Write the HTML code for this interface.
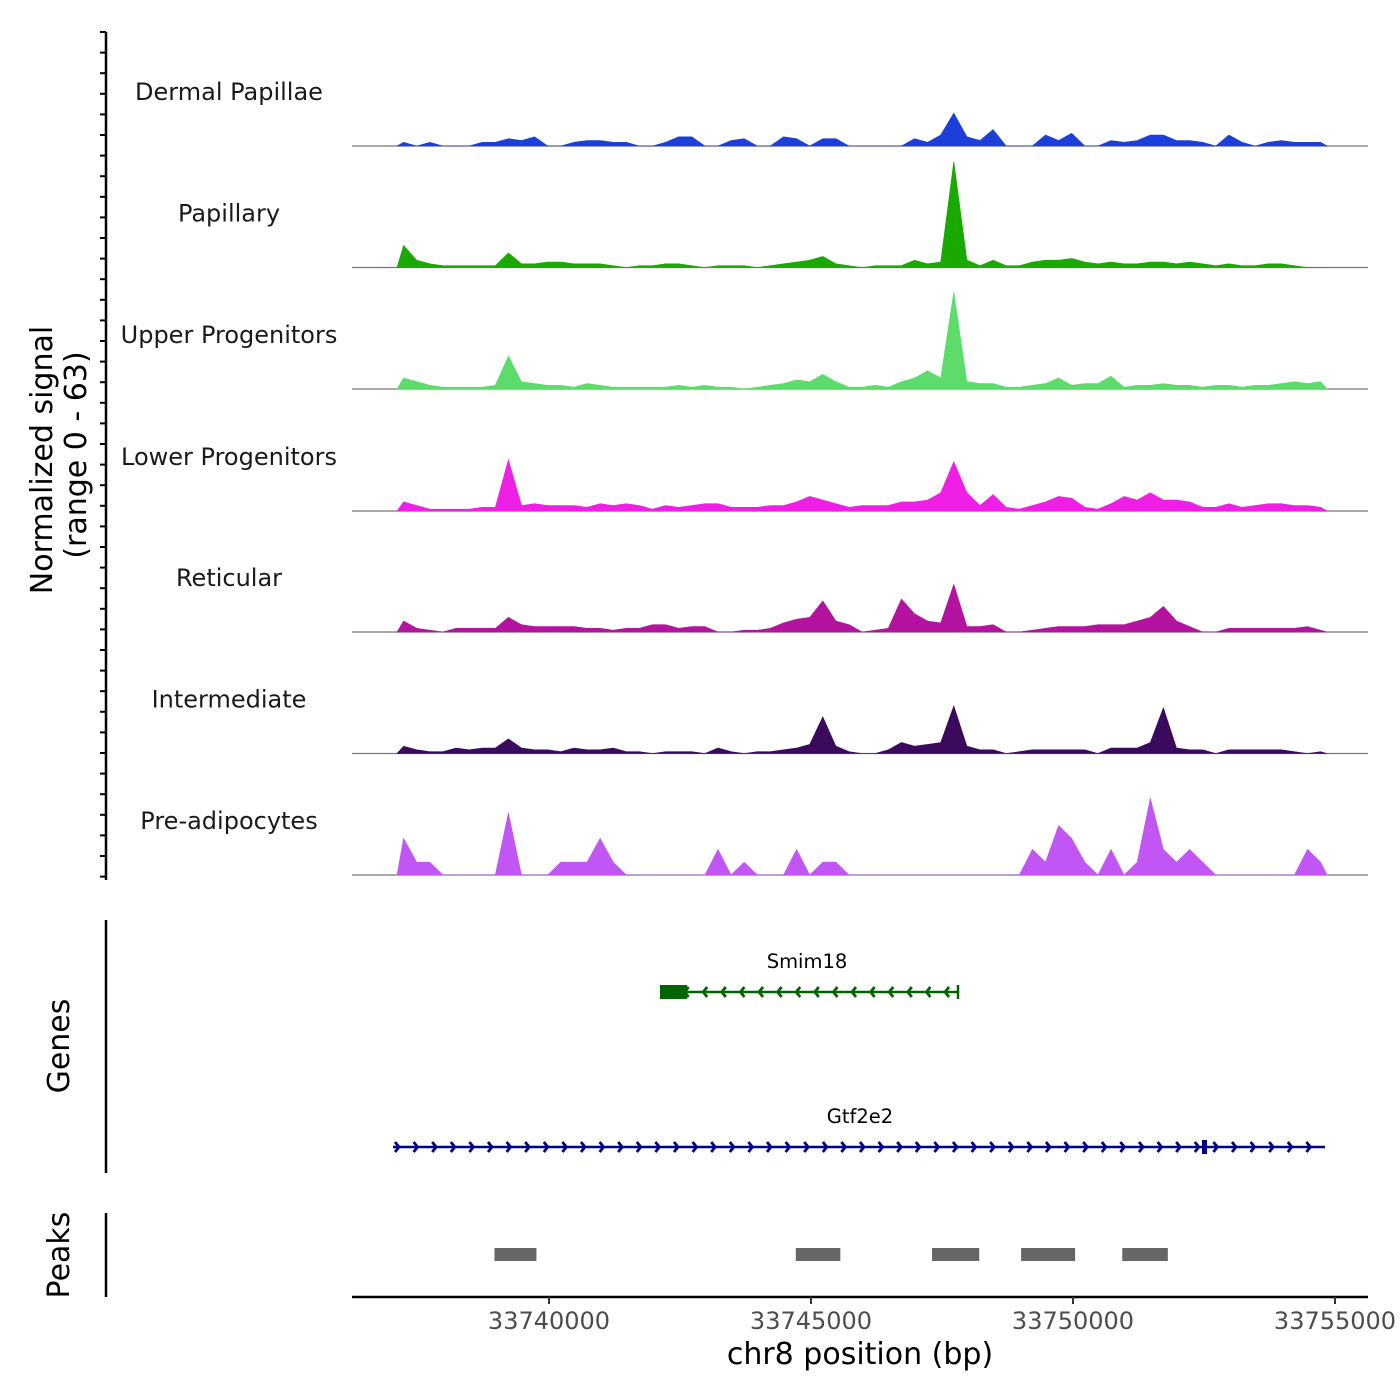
<!DOCTYPE html>
<html><head><meta charset="utf-8"><style>
html,body{margin:0;padding:0;background:#fff;}
svg{display:block;font-family:"DejaVu Sans","Liberation Sans",sans-serif;}
</style></head><body>
<svg id="chart" width="1400" height="1400" viewBox="0 0 1400 1400" xmlns="http://www.w3.org/2000/svg">
<g id="tracks"></g>
<g id="yaxis">
 <line x1="106" y1="32" x2="106" y2="880" stroke="#000" stroke-width="2.5"/>
</g>
<text transform="translate(52,460) rotate(-90)" text-anchor="middle" font-size="30" fill="#000">Normalized signal</text>
<text transform="translate(86,455) rotate(-90)" text-anchor="middle" font-size="30" fill="#000">(range 0 - 63)</text>
<g>
 <line x1="106" y1="920" x2="106" y2="1173" stroke="#000" stroke-width="2.5"/>
 <text transform="translate(69,1046) rotate(-90)" text-anchor="middle" font-size="30">Genes</text>
 <g id="genes"></g>
</g>
<g>
 <line x1="106" y1="1213" x2="106" y2="1297" stroke="#000" stroke-width="2.5"/>
 <text transform="translate(69,1255) rotate(-90)" text-anchor="middle" font-size="30">Peaks</text>
 <g id="peaks"></g>
</g>
<g id="xaxis">
 <line x1="352" y1="1297" x2="1368" y2="1297" stroke="#000" stroke-width="2.5"/>
</g>
<text x="860" y="1364" text-anchor="middle" font-size="30">chr8 position (bp)</text>
</svg>
<script>
const NS="http://www.w3.org/2000/svg";
const binStart=33737100;
const binSize=250;
const trackNames=["Dermal Papillae","Papillary","Upper Progenitors","Lower Progenitors","Reticular","Intermediate","Pre-adipocytes"];
const trackColors=["#1b3fd8","#1aa900","#5ddc6b","#f01fe6","#b3139f","#3a0a5c","#c256f5"];
const dermal=[2,0,2,0,0,0,2,2,4,3,5,0,0,2,3,3,2,2,0,0,2,5,5,0,0,3,4,0,0,5,4,0,4,4,0,0,0,0,0,4,2,6,18,5,3,9,0,0,0,6,3,7,0,0,3,2,3,6,6,3,3,2,0,6,2,0,2,3,2,2,2];
const papillary=[12,4,2,1,1,1,1,1,8,2,2,3,3,2,2,2,1,0,1,1,2,2,1,0,1,1,1,0,1,2,3,4,6,2,1,0,1,1,1,4,2,3,58,4,1,4,1,1,3,4,4,5,3,2,3,2,2,3,3,2,3,2,1,2,1,1,2,2,1,0,0];
const upper=[6,4,2,1,1,1,1,2,18,4,3,2,2,1,3,2,1,1,1,1,1,2,1,2,1,1,0,1,2,3,5,4,8,4,1,1,2,1,4,6,10,6,53,4,3,3,1,1,2,3,6,2,3,3,7,1,2,2,3,2,2,1,2,2,1,2,2,3,4,3,4];
const lower=[5,3,1,1,1,1,2,2,28,3,4,3,3,3,2,4,3,4,3,1,3,2,3,4,4,2,2,2,3,3,5,8,6,4,2,3,3,3,5,5,6,10,27,10,3,9,2,1,3,5,8,7,2,1,4,8,6,10,6,6,5,2,2,4,2,3,4,4,3,3,2];
const reticular=[6,2,1,0,2,2,2,2,8,4,3,3,3,3,2,2,1,2,2,4,4,2,3,3,0,0,1,1,2,5,7,8,17,6,4,0,1,2,18,10,6,5,26,3,3,4,0,0,1,2,3,3,3,4,4,4,6,8,14,6,3,0,0,2,2,2,2,2,2,3,1];
const intermediate=[4,2,1,1,3,2,3,3,8,3,2,2,1,3,2,2,3,1,1,0,1,1,1,0,3,1,0,1,1,2,3,5,20,4,1,0,0,2,6,4,5,6,26,4,2,2,0,1,2,2,2,2,2,0,3,3,3,6,25,3,2,2,0,2,2,2,2,2,1,0,1];
const preadipo=[20,7,7,0,0,0,0,0,34,0,0,0,7,7,7,20,7,0,0,0,0,0,0,0,14,0,7,0,0,0,14,0,7,7,0,0,0,0,0,0,0,0,0,0,0,0,0,0,14,7,27,20,7,0,14,0,7,42,14,7,14,7,0,0,0,0,0,0,0,14,7];
const trackData=[dermal,papillary,upper,lower,reticular,intermediate,preadipo];
const xTicks=[33740000,33745000,33750000,33755000];
const peakStarts=[33738960,33744710,33747310,33749010,33750940];
const peakEnds=[33739760,33745560,33748210,33750040,33751810];
const yMax=63;

const X0=33740000, XPX=549, PXPERBP=262/5000;
function xScale(bp){return XPX+(bp-X0)*PXPERBP;}
const trackBase=[146,267.5,389,511,632,753.5,875];
const unitPx=1.83;
function yScale(v,base){return base-v*unitPx;}

function mk(tag,attrs,parent){const e=document.createElementNS(NS,tag);for(const k in attrs)e.setAttribute(k,attrs[k]);parent.appendChild(e);return e;}

const tracks=document.getElementById('tracks');
trackData.forEach((arr,t)=>{
  const base=trackBase[t];
  const g=mk('g',{},tracks);
  
  
  const lab=mk('text',{x:229,y:base-46,'text-anchor':'middle','font-size':'24',fill:'#1a1a1a'},g);
  lab.textContent=trackNames[t];
  
  
  const bl=mk('line',{x1:352,x2:1368,y1:base,y2:base,stroke:'#777','stroke-width':1.2},g);
  
  
  let d='M'+xScale(binStart).toFixed(1)+' '+base;
  arr.forEach((v,i)=>{
    const cx=xScale(binStart+binSize*i+binSize/2);
    d+=' L'+cx.toFixed(1)+' '+yScale(Math.min(v,yMax),base).toFixed(1);
  });
  d+=' L'+xScale(binStart+binSize*arr.length).toFixed(1)+' '+base+' Z';
  const p=mk('path',{d:d,fill:trackColors[t],stroke:trackColors[t],'stroke-width':0.6},g);
  
  
});

const ya=document.getElementById('yaxis');
for(let y=32;y<=879;y+=20.6){
  const tk=mk('line',{x1:100,x2:106,y1:y,y2:y,stroke:'#000','stroke-width':2},ya);
  
  
}

const xa=document.getElementById('xaxis');
xTicks.forEach(v=>{
  const x=xScale(v);
  const tk=mk('line',{x1:x,x2:x,y1:1297,y2:1304,stroke:'#333','stroke-width':2},xa);
  
  
  const tl=mk('text',{x:x,y:1329,'text-anchor':'middle','font-size':'24',fill:'#4d4d4d'},xa);
  tl.textContent=String(v);
  
  
});

const pk=document.getElementById('peaks');
peakStarts.forEach((s,i)=>{
  const r=mk('rect',{x:xScale(s),y:1248,width:xScale(peakEnds[i])-xScale(s),height:13,fill:'#666'},pk);
  
  
});

const gg=document.getElementById('genes');
function gene(name,x1,x2,y,col,dir,boxX1,boxX2,labelX){
  const g=mk('g',{},gg);
  
  
  mk('line',{x1:x1,x2:x2,y1:y,y2:y,stroke:col,'stroke-width':2.5},g);
  mk('rect',{x:boxX1,y:y-7,width:boxX2-boxX1,height:14,fill:col},g);
  for(let x=x1+6;x<=x2;x+=18.6){
    const a=dir>0?'M'+(x-4)+' '+(y-5)+' L'+x+' '+y+' L'+(x-4)+' '+(y+5):'M'+(x+4)+' '+(y-5)+' L'+x+' '+y+' L'+(x+4)+' '+(y+5);
    mk('path',{d:a,fill:'none',stroke:col,'stroke-width':2.8},g);
  }
  const t=mk('text',{x:labelX,y:y-24,'text-anchor':'middle','font-size':'19.5',fill:'#000'},g);
  t.textContent=name;
}
gene('Smim18',660,958,992,'#006400',-1,660,687,807);
mk('line',{x1:958,x2:958,y1:985,y2:999,stroke:'#006400','stroke-width':2.5},gg);
gene('Gtf2e2',393,1325,1147,'#00008b',1,1202,1207,860);
</script>
</body></html>
